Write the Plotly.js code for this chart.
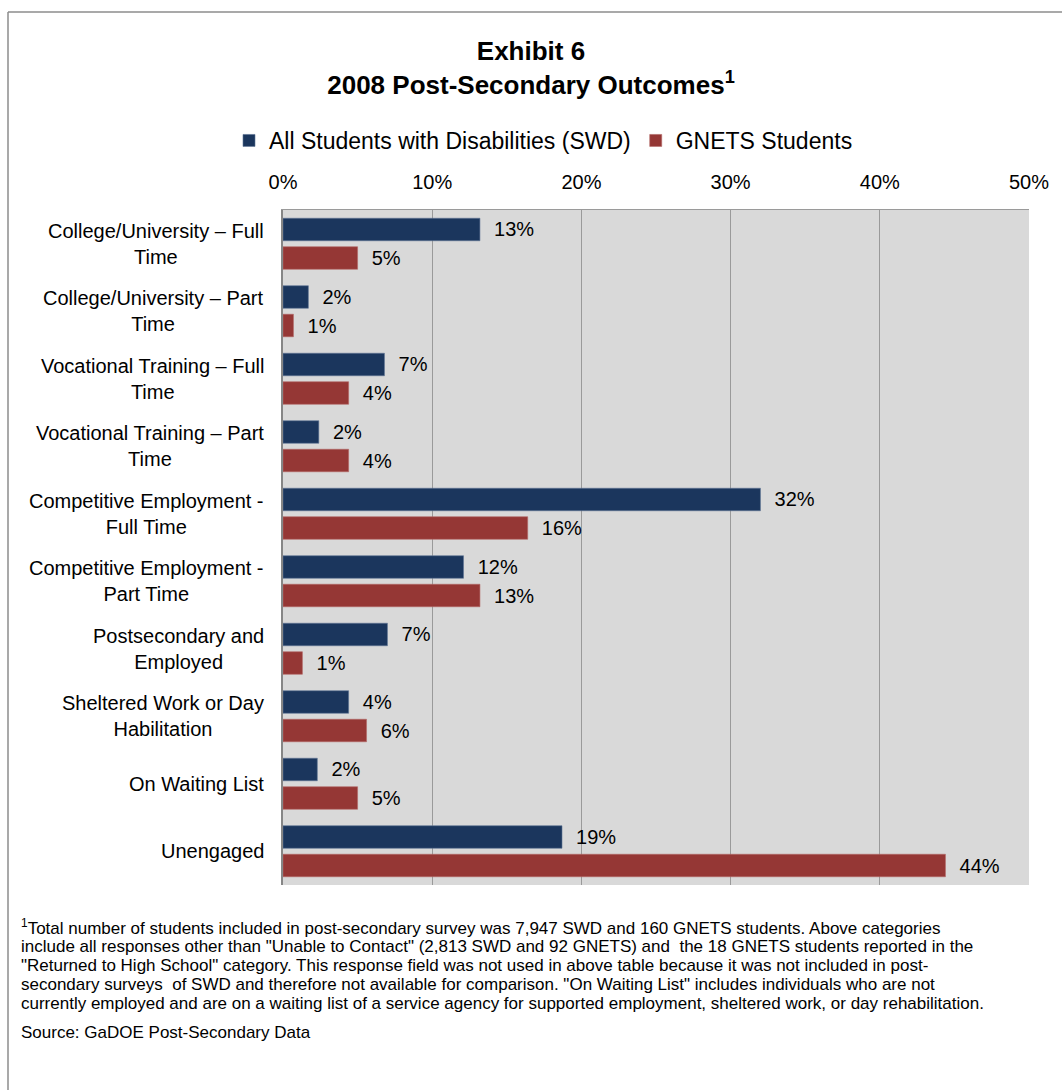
<!DOCTYPE html>
<html>
<head>
<meta charset="utf-8">
<script src="https://cdn.plot.ly/plotly-3.0.1.min.js"></script>
<style>
html,body{margin:0;padding:0;background:#fff;}
#chart{width:1062px;height:1090px;}
</style>
</head>
<body>
<div id="chart"></div>
<script>
const categories = [
  "College/University – Full<br>Time",
  "College/University – Part<br>Time",
  "Vocational Training – Full<br>Time",
  "Vocational Training – Part<br>Time",
  "Competitive Employment -<br>Full Time",
  "Competitive Employment -<br>Part Time",
  "Postsecondary and<br>Employed",
  "Sheltered Work or Day<br>Habilitation",
  "On Waiting List",
  "Unengaged"
];
const swdValues   = [13.2, 1.7, 6.8, 2.4, 32.0, 12.1, 7.0, 4.4, 2.3, 18.7];
const gnetsValues = [5.0, 0.7, 4.4, 4.4, 16.4, 13.2, 1.3, 5.6, 5.0, 44.4];
const seriesNames = ["All Students with Disabilities (SWD)", "GNETS Students"];
const xTickVals = [0, 10, 20, 30, 40, 50];
const xTickText = ["0%", "10%", "20%", "30%", "40%", "50%"];
const footnoteLines = [
  "<sup>1</sup>Total number of students included in post-secondary survey was 7,947 SWD and 160 GNETS students. Above categories",
  "include all responses other than \"Unable to Contact\" (2,813 SWD and 92 GNETS) and  the 18 GNETS students reported in the",
  "\"Returned to High School\" category. This response field was not used in above table because it was not included in post-",
  "secondary surveys  of SWD and therefore not available for comparison. \"On Waiting List\" includes individuals who are not",
  "currently employed and are on a waiting list of a service agency for supported employment, sheltered work, or day rehabilitation."
];
const sourceText = "Source: GaDOE Post-Secondary Data";

const FONT = "Liberation Sans, Arial, sans-serif";
const PX_L = 283, PX_T = 210, PW = 746, PH = 675;
const px2x = px => (px - PX_L) / PW;
const py2y = py => (PX_T + PH - py) / PH;

const traces = [
  {
    type: "bar", orientation: "h", name: seriesNames[0],
    y: categories, x: swdValues,
    marker: {color: "#1b365d", line: {color: "#5f7696", width: 0.6}},
    texttemplate: "\u00a0\u00a0%{x:.0f}%", textposition: "outside",
    textfont: {family: FONT, size: 20, color: "#000"}, cliponaxis: false,
    hoverinfo: "x"
  },
  {
    type: "bar", orientation: "h", name: seriesNames[1],
    y: categories, x: gnetsValues,
    marker: {color: "#953735", line: {color: "#b36866", width: 0.6}},
    texttemplate: "\u00a0\u00a0%{x:.0f}%", textposition: "outside",
    textfont: {family: FONT, size: 20, color: "#000"}, cliponaxis: false,
    hoverinfo: "x"
  }
];

const annotations = [];
categories.forEach(c => {
  annotations.push({
    xref: "paper", yref: "y", x: 0, y: c, xanchor: "right", yanchor: "middle",
    xshift: -17, text: c, align: "center", showarrow: false,
    font: {family: FONT, size: 20, color: "#000"}
  });
});
footnoteLines.forEach((t, i) => {
  annotations.push({
    xref: "paper", yref: "paper", x: px2x(19), y: py2y(927 + i * 19),
    xanchor: "left", yanchor: "middle", text: t, align: "left", showarrow: false,
    font: {family: FONT, size: 17, color: "#000"}
  });
});
annotations.push({
  xref: "paper", yref: "paper", x: px2x(19), y: py2y(1032),
  xanchor: "left", yanchor: "middle", text: sourceText, align: "left", showarrow: false,
  font: {family: FONT, size: 17, color: "#000"}
});

const layout = {
  width: 1062, height: 1090,
  margin: {l: 283, r: 33, t: 210, b: 205},
  paper_bgcolor: "#ffffff", plot_bgcolor: "#d9d9d9",
  font: {family: FONT, color: "#000"},
  title: {
    text: "<b>Exhibit 6<br>2008 Post-Secondary Outcomes<sup>1</sup></b>",
    x: 0.5, xref: "container", xanchor: "center",
    y: 1 - 60 / 1090, yref: "container", yanchor: "top",
    font: {family: FONT, size: 26, color: "#000"}
  },
  barmode: "group", bargap: 0.155, bargroupgap: 0.21,
  showlegend: true,
  legend: {
    orientation: "h", x: 229 / 1062, xref: "container", xanchor: "left",
    y: 1 - 119 / 1090, yref: "container", yanchor: "top",
    font: {family: FONT, size: 23, color: "#000"},
    itemclick: false, itemdoubleclick: false, traceorder: "normal"
  },
  xaxis: {
    side: "top", range: [0, 50], tickvals: xTickVals, ticktext: xTickText,
    showgrid: true, gridcolor: "#9a9a9a", gridwidth: 1.2,
    showline: true, linecolor: "#9a9a9a", linewidth: 1, mirror: false,
    zeroline: false, ticks: "", ticklabelstandoff: 12,
    tickfont: {family: FONT, size: 20, color: "#000"}, fixedrange: true
  },
  yaxis: {
    autorange: "reversed", showticklabels: false, ticks: "",
    showgrid: false, showline: true, linecolor: "#868686", linewidth: 2,
    zeroline: false, fixedrange: true
  },
  shapes: [
    {type: "line", xref: "paper", yref: "paper",
     x0: px2x(8), x1: px2x(1070), y0: py2y(12), y1: py2y(12),
     line: {color: "#8c8c8c", width: 1.5}},
    {type: "line", xref: "paper", yref: "paper",
     x0: px2x(8), x1: px2x(8), y0: py2y(12), y1: py2y(1095),
     line: {color: "#8c8c8c", width: 1.5}}
  ],
  annotations: annotations
};

Plotly.newPlot("chart", traces, layout, {displayModeBar: false, staticPlot: true});
</script>
</body>
</html>
